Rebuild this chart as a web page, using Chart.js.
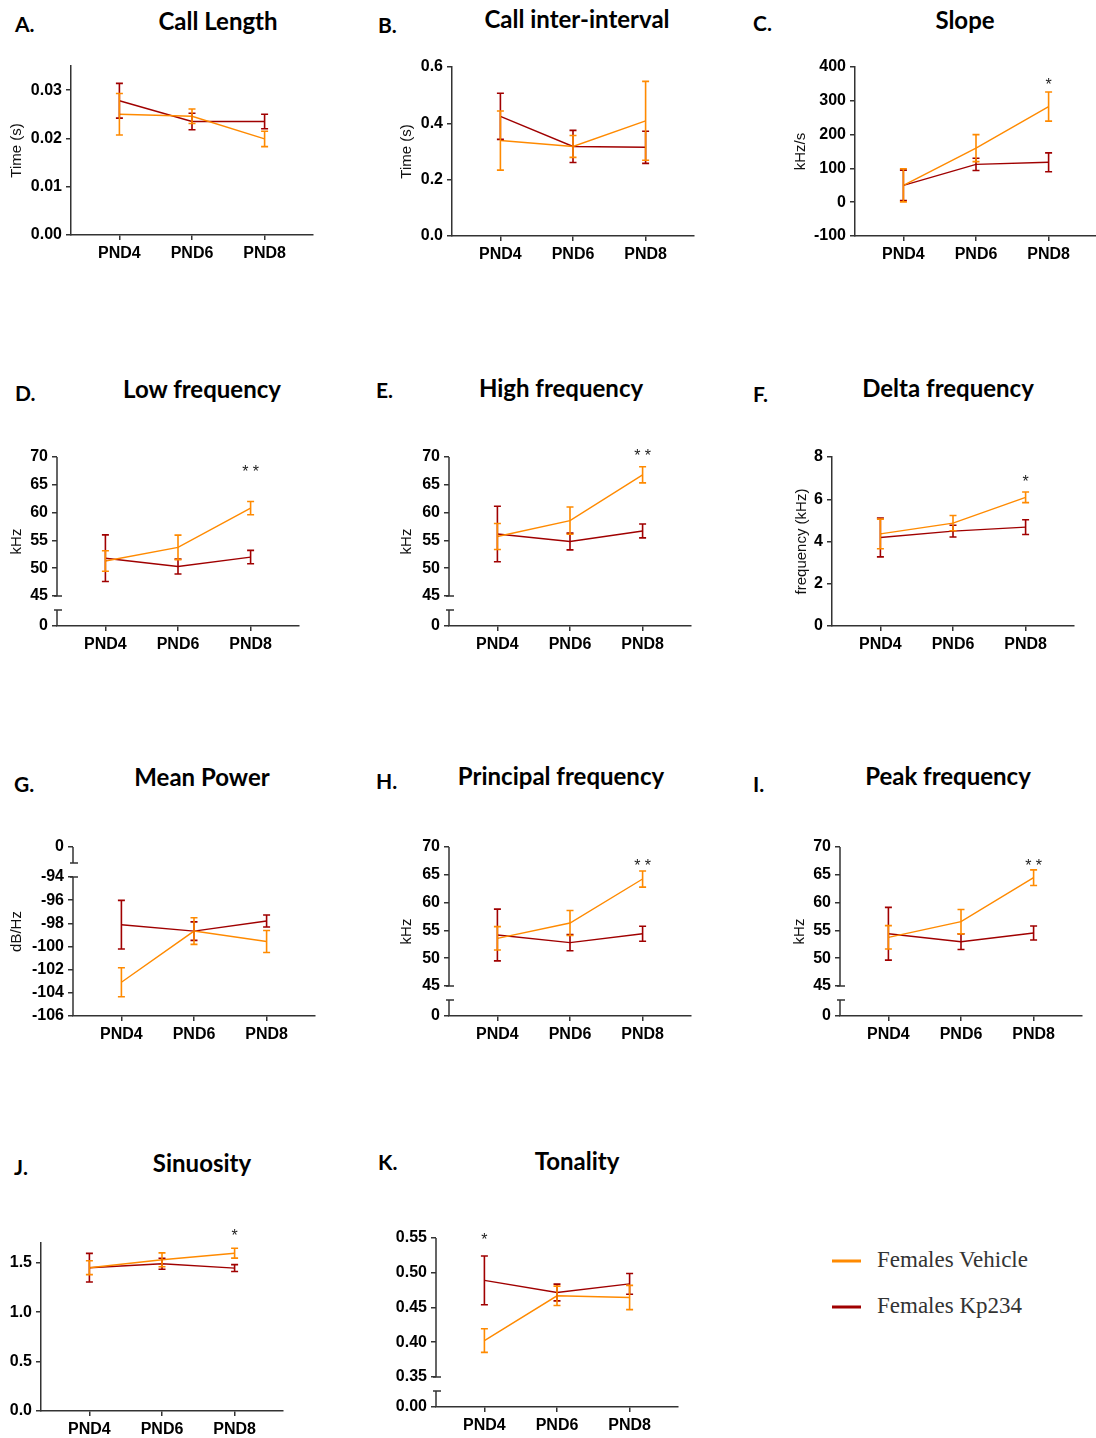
<!DOCTYPE html>
<html>
<head>
<meta charset="utf-8">
<script src="https://cdn.jsdelivr.net/npm/chart.js@4.4.1/dist/chart.umd.min.js"></script>
<style>
  body { margin: 0; width: 1096px; height: 1438px; overflow: hidden; background: #fff; position: relative; }
  canvas { position: absolute; }
  .letter { position: absolute; font-family: Lato, sans-serif; font-weight: bold; font-size: 21px; line-height: 1; transform: translateY(-50%); color: #000; }
  .title { position: absolute; font-family: Lato, sans-serif; font-weight: bold; font-size: 24px; line-height: 1; transform: translate(-50%, -50%); white-space: nowrap; color: #000; }
  .key { position: absolute; left: 832px; font-family: "Liberation Serif", "Times New Roman", serif; font-size: 23px; line-height: 1; transform: translateY(-50%); color: #333; white-space: nowrap; }
  .key span { display: inline-block; width: 29px; height: 3px; margin-right: 16px; vertical-align: middle; }
</style>
</head>
<body>
<script>
const categories = ['PND4', 'PND6', 'PND8'];
const seriesNames = ['Females Vehicle', 'Females Kp234'];

// A. call length (s)
const lengthVeh = [0.0250, 0.0246, 0.0199];
const lengthVehErr = [0.0043, 0.0015, 0.0016];
const lengthKp = [0.0278, 0.0235, 0.0235];
const lengthKpErr = [0.0036, 0.0017, 0.0015];
const lengthTicks = [0, 0.01, 0.02, 0.03];

// B. call inter-interval (s)
const intervalVeh = [0.339, 0.318, 0.409];
const intervalVehErr = [0.105, 0.039, 0.14];
const intervalKp = [0.425, 0.318, 0.315];
const intervalKpErr = [0.082, 0.057, 0.057];
const intervalTicks = [0, 0.2, 0.4, 0.6];

// C. slope (kHz/s)
const slopeVeh = [50, 160, 283];
const slopeVehErr = [49, 40, 43];
const slopeKp = [50, 112, 118];
const slopeKpErr = [45, 18, 28];
const slopeTicks = [-100, 0, 100, 200, 300, 400];

// D. low frequency (kHz)
const lowVeh = [51.3, 53.75, 60.8];
const lowVehErr = [1.85, 2.2, 1.2];
const lowKp = [51.8, 50.3, 52.0];
const lowKpErr = [4.2, 1.35, 1.2];

// E. high frequency (kHz)
const highVeh = [55.7, 58.55, 66.8];
const highVehErr = [2.35, 2.45, 1.45];
const highKp = [56.15, 54.8, 56.7];
const highKpErr = [5.0, 1.5, 1.25];

// F. delta frequency (kHz)
const deltaVeh = [4.36, 4.87, 6.09];
const deltaVehErr = [0.7, 0.36, 0.25];
const deltaKp = [4.19, 4.49, 4.68];
const deltaKpErr = [0.92, 0.28, 0.35];
const deltaTicks = [0, 2, 4, 6, 8];

// G. mean power (dB/Hz)
const powerVeh = [-103.09, -98.67, -99.57];
const powerVehErr = [1.25, 1.15, 0.95];
const powerKp = [-98.12, -98.67, -97.8];
const powerKpErr = [2.1, 0.8, 0.52];
const powerTicks = [-106, -104, -102, -100, -98, -96, -94];

// H. principal frequency (kHz)
const principalVeh = [53.57, 56.33, 64.24];
const principalVehErr = [2.1, 2.25, 1.45];
const principalKp = [54.17, 52.8, 54.4];
const principalKpErr = [4.65, 1.45, 1.35];

// I. peak frequency (kHz)
const peakVeh = [53.75, 56.57, 64.48];
const peakVehErr = [2.1, 2.2, 1.4];
const peakKp = [54.4, 52.97, 54.53];
const peakKpErr = [4.75, 1.4, 1.25];

const kHzTicks = [45, 50, 55, 60, 65, 70];

// J. sinuosity
const sinVeh = [1.45, 1.53, 1.597];
const sinVehErr = [0.07, 0.07, 0.05];
const sinKp = [1.45, 1.49, 1.446];
const sinKpErr = [0.145, 0.055, 0.035];
const sinTicks = [0, 0.5, 1.0, 1.5];

// K. tonality
const tonVeh = [0.4024, 0.4668, 0.4644];
const tonVehErr = [0.017, 0.014, 0.0175];
const tonKp = [0.489, 0.4716, 0.484];
const tonKpErr = [0.035, 0.012, 0.015];
const tonTicks = [0.35, 0.40, 0.45, 0.50, 0.55];

// significance marks: panel, category index, height in data units
const sigMarks = [
  { panel: 'C', at: 2, y: 355, text: '*' },
  { panel: 'D', at: 2, y: 67.7, text: '**' },
  { panel: 'E', at: 2, y: 70.7, text: '**' },
  { panel: 'F', at: 2, y: 6.92, text: '*' },
  { panel: 'H', at: 2, y: 67.1, text: '**' },
  { panel: 'I', at: 2, y: 67.0, text: '**' },
  { panel: 'J', at: 2, y: 1.80, text: '*' },
  { panel: 'K', at: 0, y: 0.55, text: '*' }
];

const ORANGE = '#FF8A00';
const RED = '#A00000';
const AXIS = '#333';
const TICK_FONT = { family: '"Liberation Sans", Arial, sans-serif', size: 16, weight: 'bold' };
const AXIS_W = 242;
const BREAK_GAP = 30, BREAK_CAP = 14;

const panels = [
  { id: 'A', name: 'Call Length', letter: [15, 23], head: [218, 21], L: 71, T: 66, B: 235,
    veh: lengthVeh, vehErr: lengthVehErr, kp: lengthKp, kpErr: lengthKpErr,
    ticks: lengthTicks, lo: 0, hi: 0.035, dec: 2, yTitle: 'Time (s)', yTitleX: 17 },
  { id: 'B', name: 'Call inter-interval', letter: [378, 24], head: [577, 19], L: 452, T: 67, B: 236,
    veh: intervalVeh, vehErr: intervalVehErr, kp: intervalKp, kpErr: intervalKpErr,
    ticks: intervalTicks, lo: 0, hi: 0.6, dec: 1, yTitle: 'Time (s)', yTitleX: 407 },
  { id: 'C', name: 'Slope', letter: [753, 22], head: [965, 20], L: 855, T: 67, B: 236,
    veh: slopeVeh, vehErr: slopeVehErr, kp: slopeKp, kpErr: slopeKpErr,
    ticks: slopeTicks, lo: -100, hi: 400, dec: 0, yTitle: 'kHz/s', yTitleX: 801 },
  { id: 'D', name: 'Low frequency', letter: [15, 392], head: [202, 389], L: 57, T: 457, B: 626,
    veh: lowVeh, vehErr: lowVehErr, kp: lowKp, kpErr: lowKpErr,
    ticks: kHzTicks, lo: 45, hi: 70, dec: 0, brk: 'bottom', brkLabel: '0', yTitle: 'kHz', yTitleX: 17 },
  { id: 'E', name: 'High frequency', letter: [376, 389], head: [561, 388], L: 449, T: 457, B: 626,
    veh: highVeh, vehErr: highVehErr, kp: highKp, kpErr: highKpErr,
    ticks: kHzTicks, lo: 45, hi: 70, dec: 0, brk: 'bottom', brkLabel: '0', yTitle: 'kHz', yTitleX: 407 },
  { id: 'F', name: 'Delta frequency', letter: [753, 393], head: [948, 388], L: 832, T: 457, B: 626,
    veh: deltaVeh, vehErr: deltaVehErr, kp: deltaKp, kpErr: deltaKpErr,
    ticks: deltaTicks, lo: 0, hi: 8, dec: 0, yTitle: 'frequency (kHz)', yTitleX: 802 },
  { id: 'G', name: 'Mean Power', letter: [14, 783], head: [202, 777], L: 73, T: 847, B: 1016,
    veh: powerVeh, vehErr: powerVehErr, kp: powerKp, kpErr: powerKpErr,
    ticks: powerTicks, lo: -106, hi: -94, dec: 0, brk: 'top', brkLabel: '0', yTitle: 'dB/Hz', yTitleX: 17 },
  { id: 'H', name: 'Principal frequency', letter: [376, 780], head: [561, 776], L: 449, T: 847, B: 1016,
    veh: principalVeh, vehErr: principalVehErr, kp: principalKp, kpErr: principalKpErr,
    ticks: kHzTicks, lo: 45, hi: 70, dec: 0, brk: 'bottom', brkLabel: '0', yTitle: 'kHz', yTitleX: 407 },
  { id: 'I', name: 'Peak frequency', letter: [753, 783], head: [948, 776], L: 840, T: 847, B: 1016,
    veh: peakVeh, vehErr: peakVehErr, kp: peakKp, kpErr: peakKpErr,
    ticks: kHzTicks, lo: 45, hi: 70, dec: 0, brk: 'bottom', brkLabel: '0', yTitle: 'kHz', yTitleX: 800 },
  { id: 'J', name: 'Sinuosity', letter: [14, 1166], head: [202, 1163], L: 41, T: 1243, B: 1411,
    veh: sinVeh, vehErr: sinVehErr, kp: sinKp, kpErr: sinKpErr,
    ticks: sinTicks, lo: 0, hi: 1.7, dec: 1 },
  { id: 'K', name: 'Tonality', letter: [378, 1161], head: [577, 1161], L: 436, T: 1238, B: 1407,
    veh: tonVeh, vehErr: tonVehErr, kp: tonKp, kpErr: tonKpErr,
    ticks: tonTicks, lo: 0.35, hi: 0.55, dec: 2, brk: 'bottom', brkLabel: '0.00' }
];

// y range incl. the gap of a broken axis
function yRange(p) {
  if (!p.brk) return { min: p.lo, max: p.hi };
  const ppu = (p.B - p.T - BREAK_GAP) / (p.hi - p.lo);
  if (p.brk === 'bottom') return { min: p.lo - BREAK_GAP / ppu, max: p.hi, cap: p.lo - BREAK_CAP / ppu };
  return { min: p.lo, max: p.hi + BREAK_GAP / ppu, cap: p.hi + BREAK_CAP / ppu };
}

const errorBars = {
  id: 'errorBars',
  afterDatasetsDraw(chart) {
    const ctx = chart.ctx, y = chart.scales.y;
    for (let d = chart.data.datasets.length - 1; d >= 0; d--) {
      const ds = chart.data.datasets[d];
      const meta = chart.getDatasetMeta(d);
      ctx.save();
      ctx.strokeStyle = ds.borderColor;
      ctx.lineWidth = 1.6;
      meta.data.forEach((pt, i) => {
        const v = ds.data[i].y, e = ds.err[i];
        const y1 = y.getPixelForValue(v + e), y2 = y.getPixelForValue(v - e);
        ctx.beginPath();
        ctx.moveTo(pt.x, y1); ctx.lineTo(pt.x, y2);
        ctx.moveTo(pt.x - 3.5, y1); ctx.lineTo(pt.x + 3.5, y1);
        ctx.moveTo(pt.x - 3.5, y2); ctx.lineTo(pt.x + 3.5, y2);
        ctx.stroke();
      });
      ctx.restore();
    }
  }
};

const brokenAxis = {
  id: 'brokenAxis',
  afterDraw(chart, args, opts) {
    const p = opts.panel;
    if (!p.brk) return;
    const r = yRange(p), y = chart.scales.y, ctx = chart.ctx;
    const x = chart.chartArea.left;
    const top = y.getPixelForValue(r.max), bottom = y.getPixelForValue(r.min);
    const edge = y.getPixelForValue(p.brk === 'bottom' ? p.lo : p.hi);
    const cap = y.getPixelForValue(r.cap);
    ctx.save();
    ctx.strokeStyle = AXIS;
    ctx.lineWidth = 1.5;
    ctx.beginPath();
    if (p.brk === 'bottom') {
      ctx.moveTo(x, top); ctx.lineTo(x, edge);
      ctx.moveTo(x, cap); ctx.lineTo(x, bottom);
    } else {
      ctx.moveTo(x, top); ctx.lineTo(x, cap);
      ctx.moveTo(x, edge); ctx.lineTo(x, bottom);
    }
    ctx.moveTo(x - 3, edge); ctx.lineTo(x + 5, edge);
    ctx.moveTo(x - 3, cap); ctx.lineTo(x + 5, cap);
    ctx.stroke();
    ctx.restore();
  }
};

const sigLabels = {
  id: 'sigLabels',
  afterDraw(chart, args, opts) {
    const ctx = chart.ctx;
    sigMarks.filter(s => s.panel === opts.panel.id).forEach(s => {
      const x = chart.scales.x.getPixelForValue(s.at);
      const y = chart.scales.y.getPixelForValue(s.y);
      ctx.save();
      ctx.fillStyle = '#222';
      ctx.font = '16px "Liberation Sans", Arial, sans-serif';
      ctx.textAlign = 'center';
      ctx.textBaseline = 'middle';
      ctx.fillText(s.text.split('').join(' '), x, y + 3);
      ctx.restore();
    });
  }
};

function addText(cls, text, x, y) {
  const el = document.createElement('div');
  el.className = cls;
  el.textContent = text;
  el.style.left = x + 'px';
  el.style.top = y + 'px';
  document.body.appendChild(el);
}

function makeChart(p) {
  addText('letter', p.id + '.', p.letter[0], p.letter[1]);
  addText('title', p.name, p.head[0], p.head[1]);

  const left = Math.max(0, p.L - 66);
  const yw = p.L - left;
  const cv = document.createElement('canvas');
  cv.width = yw + AXIS_W + 6;
  cv.height = (p.B - p.T) + 20 + 40;
  cv.style.left = left + 'px';
  cv.style.top = (p.T - 20) + 'px';
  document.body.appendChild(cv);

  const r = yRange(p);
  const titlePad = p.yTitle ? Math.max(0, p.yTitleX - left - 9) : 0;
  const pts = arr => arr.map((v, i) => ({ x: i, y: v }));

  return new Chart(cv, {
    type: 'line',
    data: {
      datasets: [
        { label: seriesNames[0], data: pts(p.veh), err: p.vehErr, borderColor: ORANGE, borderWidth: 1.4, pointRadius: 0, tension: 0, clip: false },
        { label: seriesNames[1], data: pts(p.kp), err: p.kpErr, borderColor: RED, borderWidth: 1.4, pointRadius: 0, tension: 0, clip: false }
      ]
    },
    options: {
      responsive: false,
      animation: false,
      devicePixelRatio: 1,
      layout: { padding: { top: 20, right: 6, left: 0, bottom: 0 } },
      plugins: {
        legend: { display: false },
        tooltip: { enabled: false },
        brokenAxis: { panel: p },
        sigLabels: { panel: p }
      },
      scales: {
        x: {
          type: 'linear',
          min: -2 / 3,
          max: 8 / 3,
          afterBuildTicks: s => { s.ticks = categories.map((c, i) => ({ value: i })); },
          afterFit: s => { s.height = 40; },
          ticks: { callback: v => categories[v], font: TICK_FONT, color: '#000', padding: 4, maxRotation: 0, autoSkip: false },
          grid: { drawOnChartArea: false, drawTicks: true, tickLength: 5, color: AXIS, lineWidth: 1.5 },
          border: { color: AXIS, width: 1.5 }
        },
        y: {
          min: r.min,
          max: r.max,
          afterBuildTicks: s => {
            const t = p.ticks.map(v => ({ value: v }));
            if (p.brk === 'bottom') t.unshift({ value: r.min });
            if (p.brk === 'top') t.push({ value: r.max });
            s.ticks = t;
          },
          afterFit: s => { s.width = yw; },
          ticks: {
            callback: v => (p.brk && (v === r.min || v === r.max) && !p.ticks.includes(v)) ? p.brkLabel : Number(v).toFixed(p.dec),
            font: TICK_FONT, color: '#000', padding: 4, autoSkip: false
          },
          grid: { drawOnChartArea: false, drawTicks: true, tickLength: 5, color: AXIS, lineWidth: 1.5 },
          border: { display: !p.brk, color: AXIS, width: 1.5 },
          title: {
            display: !!p.yTitle,
            text: p.yTitle || '',
            color: '#111',
            font: { family: '"Liberation Sans", Arial, sans-serif', size: 15 },
            padding: { top: titlePad, bottom: 0 }
          }
        }
      }
    },
    plugins: [errorBars, brokenAxis, sigLabels]
  });
}

panels.forEach(makeChart);

// legend
[ORANGE, RED].forEach((c, i) => {
  const el = document.createElement('div');
  el.className = 'key';
  el.style.top = (1259 + i * 46) + 'px';
  el.innerHTML = '<span style="background:' + c + '"></span>' + seriesNames[i];
  document.body.appendChild(el);
});
</script>
</body>
</html>
